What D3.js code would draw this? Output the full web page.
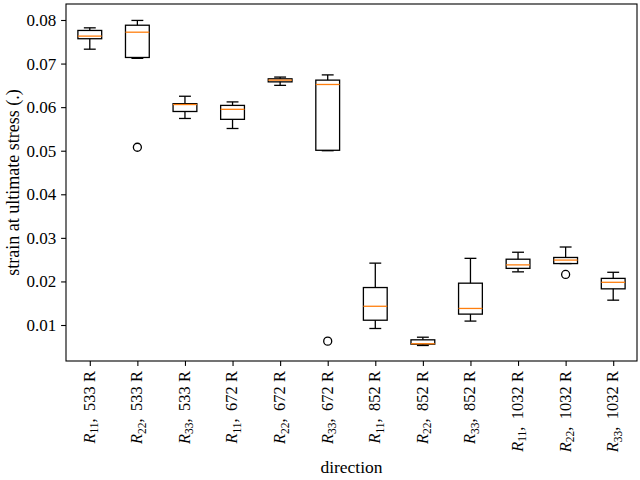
<!DOCTYPE html>
<html>
<head>
<meta charset="utf-8">
<script src="https://cdn.jsdelivr.net/npm/d3@7"></script>
<style>
  body { margin: 0; background: #fff; }
  svg { display: block; }
  svg text { font-family: "Times New Roman", "Liberation Serif", serif; }
</style>
</head>
<body>
<div id="chart"></div>
<script>
// categories (direction index and temperature)
const directions = ["11", "22", "33", "11", "22", "33", "11", "22", "33", "11", "22", "33"];
const temps = ["533", "533", "533", "672", "672", "672", "852", "852", "852", "1032", "1032", "1032"];

// box statistics
const whiskerLow = [0.0733, 0.0712, 0.0574, 0.0551, 0.0650, 0.0500, 0.0092, 0.0053, 0.0109, 0.0222, 0.0241, 0.0157];
const q1 = [0.0757, 0.0714, 0.0590, 0.0572, 0.0658, 0.0501, 0.0111, 0.0056, 0.0125, 0.0230, 0.0241, 0.0183];
const median = [0.0763, 0.0772, 0.0606, 0.0595, 0.0662, 0.0652, 0.0143, 0.0057, 0.0138, 0.0238, 0.0249, 0.0198];
const q3 = [0.0776, 0.0788, 0.0608, 0.0604, 0.0665, 0.0662, 0.0186, 0.0066, 0.0196, 0.0251, 0.0255, 0.0207];
const whiskerHigh = [0.0782, 0.0799, 0.0625, 0.0612, 0.0669, 0.0674, 0.0242, 0.0072, 0.0253, 0.0267, 0.0279, 0.0221];
const outliers = [[], [0.0508], [], [], [], [0.0063], [], [], [], [], [0.0216], []];

const yTicks = [0.01, 0.02, 0.03, 0.04, 0.05, 0.06, 0.07, 0.08];

const width = 640, height = 480;
const margin = {top: 4, right: 3, bottom: 119, left: 66};

const svg = d3.select("#chart").append("svg")
    .attr("width", width)
    .attr("height", height);

const x = d3.scaleLinear()
    .domain([0.5, directions.length + 0.5])
    .range([margin.left, width - margin.right]);

const y = d3.scaleLinear()
    .domain([0.00174, 0.08367])
    .range([height - margin.bottom, margin.top]);

const boxW = x(1.25) - x(0.75);
const capW = boxW / 2;

const data = directions.map((d, i) => ({
    pos: i + 1,
    lo: whiskerLow[i], q1: q1[i], med: median[i], q3: q3[i], hi: whiskerHigh[i],
    out: outliers[i]
}));

const g = svg.append("g")
    .selectAll("g")
    .data(data)
    .join("g")
    .attr("stroke", "black")
    .attr("stroke-width", 1.3)
    .attr("fill", "none");

// whiskers
g.append("line")
    .attr("x1", d => x(d.pos)).attr("x2", d => x(d.pos))
    .attr("y1", d => y(d.hi)).attr("y2", d => y(d.q3));
g.append("line")
    .attr("x1", d => x(d.pos)).attr("x2", d => x(d.pos))
    .attr("y1", d => y(d.lo)).attr("y2", d => y(d.q1));
// caps
g.append("line")
    .attr("x1", d => x(d.pos) - capW / 2).attr("x2", d => x(d.pos) + capW / 2)
    .attr("y1", d => y(d.hi)).attr("y2", d => y(d.hi));
g.append("line")
    .attr("x1", d => x(d.pos) - capW / 2).attr("x2", d => x(d.pos) + capW / 2)
    .attr("y1", d => y(d.lo)).attr("y2", d => y(d.lo));
// box
g.append("rect")
    .attr("x", d => x(d.pos) - boxW / 2)
    .attr("width", boxW)
    .attr("y", d => y(d.q3))
    .attr("height", d => y(d.q1) - y(d.q3));
// median
g.append("line")
    .attr("x1", d => x(d.pos) - boxW / 2).attr("x2", d => x(d.pos) + boxW / 2)
    .attr("y1", d => y(d.med)).attr("y2", d => y(d.med))
    .attr("stroke", "#ff7f0e");
// fliers
g.selectAll("circle")
    .data(d => d.out.map(v => ({pos: d.pos, v})))
    .join("circle")
    .attr("cx", d => x(d.pos))
    .attr("cy", d => y(d.v))
    .attr("r", 4);

// frame
svg.append("rect")
    .attr("x", margin.left).attr("y", margin.top)
    .attr("width", width - margin.left - margin.right)
    .attr("height", height - margin.top - margin.bottom)
    .attr("fill", "none")
    .attr("stroke", "black").attr("stroke-width", 1.1);

// y axis
const yAxis = svg.append("g")
    .attr("transform", `translate(${margin.left},0)`)
    .call(d3.axisLeft(y).tickValues(yTicks).tickFormat(d3.format(".2f")).tickSize(4.9).tickPadding(4.9));
yAxis.select(".domain").remove();
yAxis.selectAll("line").attr("stroke-width", 1.1);
yAxis.selectAll("text")
    .attr("font-size", "17px")
    .attr("fill", "black");

// x axis
const xAxis = svg.append("g")
    .attr("transform", `translate(0,${height - margin.bottom})`)
    .call(d3.axisBottom(x).tickValues(data.map(d => d.pos)).tickFormat("").tickSize(4.9));
xAxis.select(".domain").remove();
xAxis.selectAll("line").attr("stroke-width", 1.1);

const xl = svg.append("g")
    .selectAll("text")
    .data(data)
    .join("text")
    .attr("transform", d => `translate(${x(d.pos)},${height - margin.bottom + 10}) rotate(-90)`)
    .attr("text-anchor", "end")
    .attr("dy", "0.3em")
    .attr("font-size", "16.5px")
    .attr("fill", "black");
xl.append("tspan").attr("font-style", "italic").text("R");
xl.append("tspan").attr("font-size", "11.5px").attr("dy", 3.5).text((d, i) => directions[i]);
xl.append("tspan").attr("dy", -3.5).text((d, i) => `,\u2009 ${temps[i]} R`);

// axis labels
svg.append("text")
    .attr("x", (margin.left + width - margin.right) / 2)
    .attr("y", 473)
    .attr("text-anchor", "middle")
    .attr("font-size", "17.5px")
    .text("direction");

svg.append("text")
    .attr("transform", `translate(19,${(margin.top + height - margin.bottom) / 2}) rotate(-90)`)
    .attr("text-anchor", "middle")
    .attr("font-size", "18px")
    .text("strain at ultimate stress (.)");
</script>
</body>
</html>
